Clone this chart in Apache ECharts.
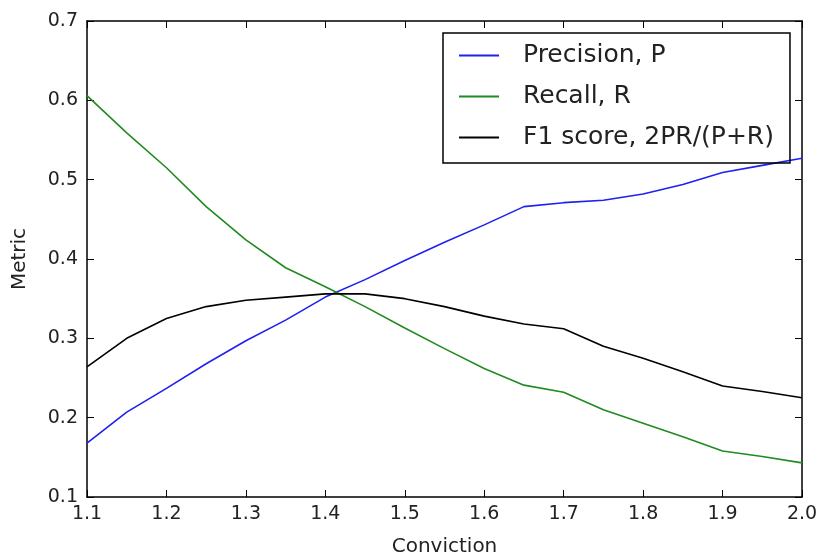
<!DOCTYPE html>
<html>
<head>
<meta charset="utf-8">
<script src="https://cdn.jsdelivr.net/npm/echarts@6/dist/echarts.min.js"></script>
<style>
  html, body { margin: 0; padding: 0; background: #fff; }
  #chart { width: 819px; height: 556px; }
</style>
</head>
<body>
<div id="chart"></div>
<script>
// 数据：conviction 阈值和三个指标
const conviction = [1.1, 1.15, 1.2, 1.25, 1.3, 1.35, 1.4, 1.45, 1.5, 1.55,
                    1.6, 1.65, 1.7, 1.75, 1.8, 1.85, 1.9, 1.95, 2.0];
const precision = [0.168, 0.207, 0.237, 0.268, 0.297, 0.323, 0.352, 0.374, 0.398, 0.421,
                   0.443, 0.466, 0.471, 0.474, 0.482, 0.494, 0.509, 0.518, 0.527];
const recall = [0.606, 0.559, 0.515, 0.466, 0.424, 0.389, 0.365, 0.340, 0.313, 0.287,
                0.262, 0.241, 0.232, 0.210, 0.193, 0.176, 0.158, 0.151, 0.143];
const f1 = [0.264, 0.300, 0.325, 0.340, 0.348, 0.352, 0.356, 0.356, 0.350, 0.340,
            0.328, 0.318, 0.312, 0.290, 0.275, 0.258, 0.240, 0.233, 0.225];
const seriesNames = ['Precision, P', 'Recall, R', 'F1 score, 2PR/(P+R)'];
const seriesColors = ['#2020f0', '#218a21', '#000000'];

const font = 'DejaVu Sans';

function pairs(ys) {
    return conviction.map((x, i) => [x, ys[i]]);
}

const chart = echarts.init(document.getElementById('chart'));

// 坐标轴公共样式（刻度朝内，四边框）
const tickIn = { show: true, inside: true, length: 7, lineStyle: { color: '#000', width: 1 } };
const axisLineBlack = { show: true, lineStyle: { color: '#000', width: 1.5 } };
const labelStyle = { fontFamily: font, fontSize: 19, color: '#222' };

const option = {
    animation: false,
    backgroundColor: '#fff',
    grid: { left: 87, right: 17, top: 21, bottom: 59, outerBoundsMode: 'none' },
    legend: {
        orient: 'vertical',
        left: 443,
        top: 33,
        data: seriesNames,
        icon: 'rect',
        itemWidth: 40,
        itemHeight: 2,
        itemGap: 16,
        padding: [10, 16, 13, 16],
        borderColor: '#000',
        borderWidth: 1.5,
        textStyle: { fontFamily: font, fontSize: 25, color: '#222', padding: [0, 0, 0, 19] }
    },
    xAxis: [{
        type: 'value',
        min: 1.1,
        max: 2.0,
        interval: 0.1,
        name: 'Conviction',
        nameLocation: 'middle',
        nameGap: 40,
        nameTextStyle: { fontFamily: font, fontSize: 20, color: '#222' },
        axisLine: axisLineBlack,
        axisTick: tickIn,
        axisLabel: Object.assign({ margin: 8, formatter: v => v.toFixed(1) }, labelStyle),
        splitLine: { show: false }
    }, {
        type: 'value',
        position: 'top',
        min: 1.1,
        max: 2.0,
        interval: 0.1,
        axisLine: axisLineBlack,
        axisTick: tickIn,
        axisLabel: { show: false },
        splitLine: { show: false }
    }],
    yAxis: [{
        type: 'value',
        min: 0.1,
        max: 0.7,
        interval: 0.1,
        name: 'Metric',
        nameLocation: 'middle',
        nameGap: 57,
        nameRotate: 90,
        nameTextStyle: { fontFamily: font, fontSize: 20, color: '#222' },
        axisLine: axisLineBlack,
        axisTick: tickIn,
        axisLabel: Object.assign({ margin: 9, formatter: v => v.toFixed(1) }, labelStyle),
        splitLine: { show: false }
    }, {
        type: 'value',
        position: 'right',
        min: 0.1,
        max: 0.7,
        interval: 0.1,
        axisLine: axisLineBlack,
        axisTick: tickIn,
        axisLabel: { show: false },
        splitLine: { show: false }
    }],
    series: [precision, recall, f1].map((ys, i) => ({
        name: seriesNames[i],
        type: 'line',
        data: pairs(ys),
        symbol: 'none',
        lineStyle: { color: seriesColors[i], width: 1.6 },
        itemStyle: { color: seriesColors[i] }
    }))
};

chart.setOption(option);
</script>
</body>
</html>
